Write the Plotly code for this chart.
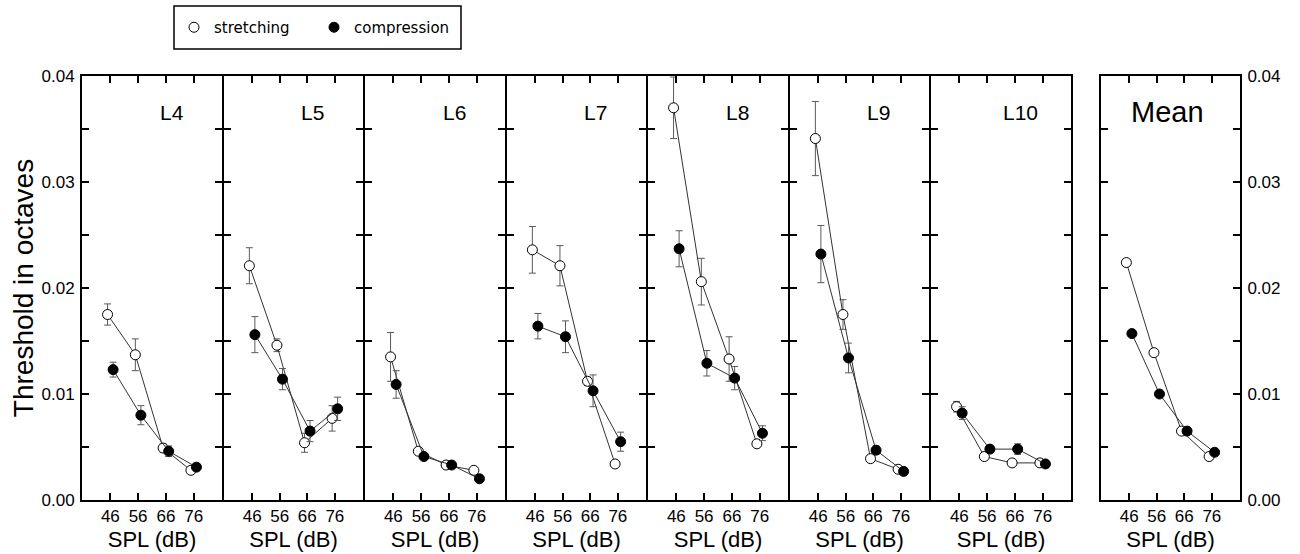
import plotly.graph_objects as go

# ---------------- data ----------------
spl = [46, 56, 66, 76]
spl_ticks = ["46", "56", "66", "76"]
panels = ["L4", "L5", "L6", "L7", "L8", "L9", "L10", "Mean"]

stretch_L4 = [0.0175, 0.0137, 0.0049, 0.0028]
stretch_err_L4 = [0.0010, 0.0015, 0.0004, 0.0002]
compress_L4 = [0.0123, 0.0080, 0.0046, 0.0031]
compress_err_L4 = [0.0007, 0.0009, 0.0005, 0.0002]

stretch_L5 = [0.0221, 0.0146, 0.0054, 0.0077]
stretch_err_L5 = [0.0017, 0.0006, 0.0009, 0.0012]
compress_L5 = [0.0156, 0.0114, 0.0065, 0.0086]
compress_err_L5 = [0.0017, 0.0010, 0.0010, 0.0011]

stretch_L6 = [0.0135, 0.0046, 0.0033, 0.0028]
stretch_err_L6 = [0.0023, 0.0003, 0.0002, 0.0002]
compress_L6 = [0.0109, 0.0041, 0.0033, 0.0020]
compress_err_L6 = [0.0013, 0.0002, 0.0002, 0.0002]

stretch_L7 = [0.0236, 0.0221, 0.0112, 0.0034]
stretch_err_L7 = [0.0022, 0.0019, 0.0004, 0.0002]
compress_L7 = [0.0164, 0.0154, 0.0103, 0.0055]
compress_err_L7 = [0.0012, 0.0015, 0.0015, 0.0009]

stretch_L8 = [0.0370, 0.0206, 0.0133, 0.0053]
stretch_err_L8 = [0.0029, 0.0022, 0.0021, 0.0002]
compress_L8 = [0.0237, 0.0129, 0.0115, 0.0063]
compress_err_L8 = [0.0017, 0.0012, 0.0011, 0.0007]

stretch_L9 = [0.0341, 0.0175, 0.0039, 0.0029]
stretch_err_L9 = [0.0035, 0.0014, 0.0002, 0.0002]
compress_L9 = [0.0232, 0.0134, 0.0047, 0.0027]
compress_err_L9 = [0.0027, 0.0014, 0.0004, 0.0002]

stretch_L10 = [0.0088, 0.0041, 0.0035, 0.0035]
stretch_err_L10 = [0.0005, 0.0002, 0.0002, 0.0002]
compress_L10 = [0.0082, 0.0048, 0.0048, 0.0034]
compress_err_L10 = [0.0006, 0.0002, 0.0005, 0.0002]

stretch_Mean = [0.0224, 0.0139, 0.0065, 0.0041]
compress_Mean = [0.0157, 0.0100, 0.0065, 0.0045]

stretch = [stretch_L4, stretch_L5, stretch_L6, stretch_L7, stretch_L8,
           stretch_L9, stretch_L10, stretch_Mean]
stretch_err = [stretch_err_L4, stretch_err_L5, stretch_err_L6, stretch_err_L7,
               stretch_err_L8, stretch_err_L9, stretch_err_L10, None]
compress = [compress_L4, compress_L5, compress_L6, compress_L7, compress_L8,
            compress_L9, compress_L10, compress_Mean]
compress_err = [compress_err_L4, compress_err_L5, compress_err_L6, compress_err_L7,
                compress_err_L8, compress_err_L9, compress_err_L10, None]

y_ticks = [0.0, 0.01, 0.02, 0.03, 0.04]
y_tick_labels = ["0.00", "0.01", "0.02", "0.03", "0.04"]

# ---------------- layout geometry ----------------
W, H = 1300, 554
LW = 2  # frame line width; lines are drawn just outside the domain
panel_edges = [81, 223, 364, 506, 647, 789, 930, 1072]
mean_edges = [1100, 1241]
plot_top, plot_bottom = 75, 501
offset = 1.0  # horizontal offset of the two series (dB)

FONT = "Liberation Sans, Arial, sans-serif"
LINE_COL = "#333333"
ERR_COL = "#5a5a5a"

fig = go.Figure()

for i, name in enumerate(panels):
    xa = "x" if i == 0 else f"x{i+1}"
    ya = "y" if i == 0 else f"y{i+1}"
    xs = [v - offset for v in spl]
    xc = [v + offset for v in spl]
    err_s = dict(type="data", array=stretch_err[i], visible=True, color=ERR_COL,
                 thickness=1, width=3.5) if stretch_err[i] else None
    err_c = dict(type="data", array=compress_err[i], visible=True, color=ERR_COL,
                 thickness=1, width=3.5) if compress_err[i] else None
    fig.add_trace(go.Scatter(
        x=xs, y=stretch[i], mode="lines+markers", xaxis=xa, yaxis=ya,
        line=dict(color=LINE_COL, width=1),
        marker=dict(symbol="circle", size=10, color="white",
                    line=dict(color="black", width=1)),
        error_y=err_s, showlegend=False, name="stretching"))
    fig.add_trace(go.Scatter(
        x=xc, y=compress[i], mode="lines+markers", xaxis=xa, yaxis=ya,
        line=dict(color=LINE_COL, width=1),
        marker=dict(symbol="circle", size=10, color="black",
                    line=dict(color="black", width=1)),
        error_y=err_c, showlegend=False, name="compression"))

# legend entries (markers only)
fig.add_trace(go.Scatter(x=[None], y=[None], mode="markers", name="stretching",
                         marker=dict(symbol="circle", size=10, color="white",
                                     line=dict(color="black", width=1))))
fig.add_trace(go.Scatter(x=[None], y=[None], mode="markers", name="compression",
                         marker=dict(symbol="circle", size=10, color="black",
                                     line=dict(color="black", width=1))))

layout = dict(
    width=W, height=H,
    margin=dict(l=0, r=0, t=0, b=0, autoexpand=False),
    paper_bgcolor="white", plot_bgcolor="white",
    font=dict(family=FONT, color="black"),
    showlegend=True,
    legend=dict(orientation="h", x=174 / W, y=1 - 11 / H, xanchor="left", yanchor="top",
                bgcolor="rgba(0,0,0,0)", borderwidth=0,
                font=dict(family="DejaVu Sans, sans-serif", size=15),
                entrywidth=95, entrywidthmode="pixels"),
    shapes=[dict(type="rect", xref="paper", yref="paper",
                 x0=174 / W, x1=461 / W, y0=1 - 49 / H, y1=1 - 6 / H,
                 line=dict(color="black", width=1.5), fillcolor="rgba(0,0,0,0)")],
    annotations=[],
)

half = LW / 2
y_dom = [1 - (plot_bottom - half) / H, 1 - (plot_top + half) / H]
# x range so that 46 and 76 ticks keep their pixel positions (~28 px / 10 dB)
for i, name in enumerate(panels):
    xk = "xaxis" if i == 0 else f"xaxis{i+1}"
    yk = "yaxis" if i == 0 else f"yaxis{i+1}"
    xa_id = "x" if i == 0 else f"x{i+1}"
    ya_id = "y" if i == 0 else f"y{i+1}"
    is_first = i == 0
    is_mean = name == "Mean"
    if is_mean:
        e0, e1 = mean_edges
    else:
        e0, e1 = panel_edges[i], panel_edges[i + 1]
    x0, x1 = (e0 + half) / W, (e1 - half) / W
    layout[xk] = dict(
        domain=[x0, x1], anchor=ya_id, range=[35.8, 86.2], automargin=False,
        tickmode="array", tickvals=spl, ticktext=spl_ticks,
        ticks="inside", ticklen=7, tickwidth=1.5, tickcolor="black",
        showline=True, linecolor="black", linewidth=LW, mirror="ticks",
        showgrid=False, zeroline=False, fixedrange=True,
        tickfont=dict(size=17, family=FONT),
        title=dict(text="SPL (dB)", font=dict(size=22, family=FONT), standoff=6),
    )
    layout[yk] = dict(
        domain=y_dom, anchor=xa_id, range=[0, 0.04], automargin=False,
        tickmode="array", tickvals=y_ticks, ticktext=y_tick_labels,
        minor=dict(tickmode="array", tickvals=[0.005, 0.015, 0.025, 0.035],
                   ticks="inside", ticklen=7, tickwidth=1.5, tickcolor="black"),
        ticks="inside", ticklen=7, tickwidth=1.5, tickcolor="black",
        showline=True, linecolor="black", linewidth=LW, mirror="ticks",
        showgrid=False, zeroline=False, fixedrange=True,
        showticklabels=is_first or is_mean,
        side="right" if is_mean else "left",
        tickfont=dict(size=17, family=FONT),
        ticklabelstandoff=2,
    )
    if is_first:
        layout[yk]["title"] = dict(text="Threshold in octaves",
                                   font=dict(size=28, family=FONT), standoff=0)
    label_x = 0.48 if is_mean else 0.64
    layout["annotations"].append(dict(
        text=name, xref=f"{xa_id} domain", yref=f"{ya_id} domain",
        x=label_x, y=0.914, xanchor="center", yanchor="middle", showarrow=False,
        font=dict(size=29 if is_mean else 21, family=FONT)))

fig.update_layout(**layout)
fig.write_html("out.html", config={"displayModeBar": False},
               post_script="document.body.style.margin='0px';"
                           "document.body.style.overflow='hidden';")
